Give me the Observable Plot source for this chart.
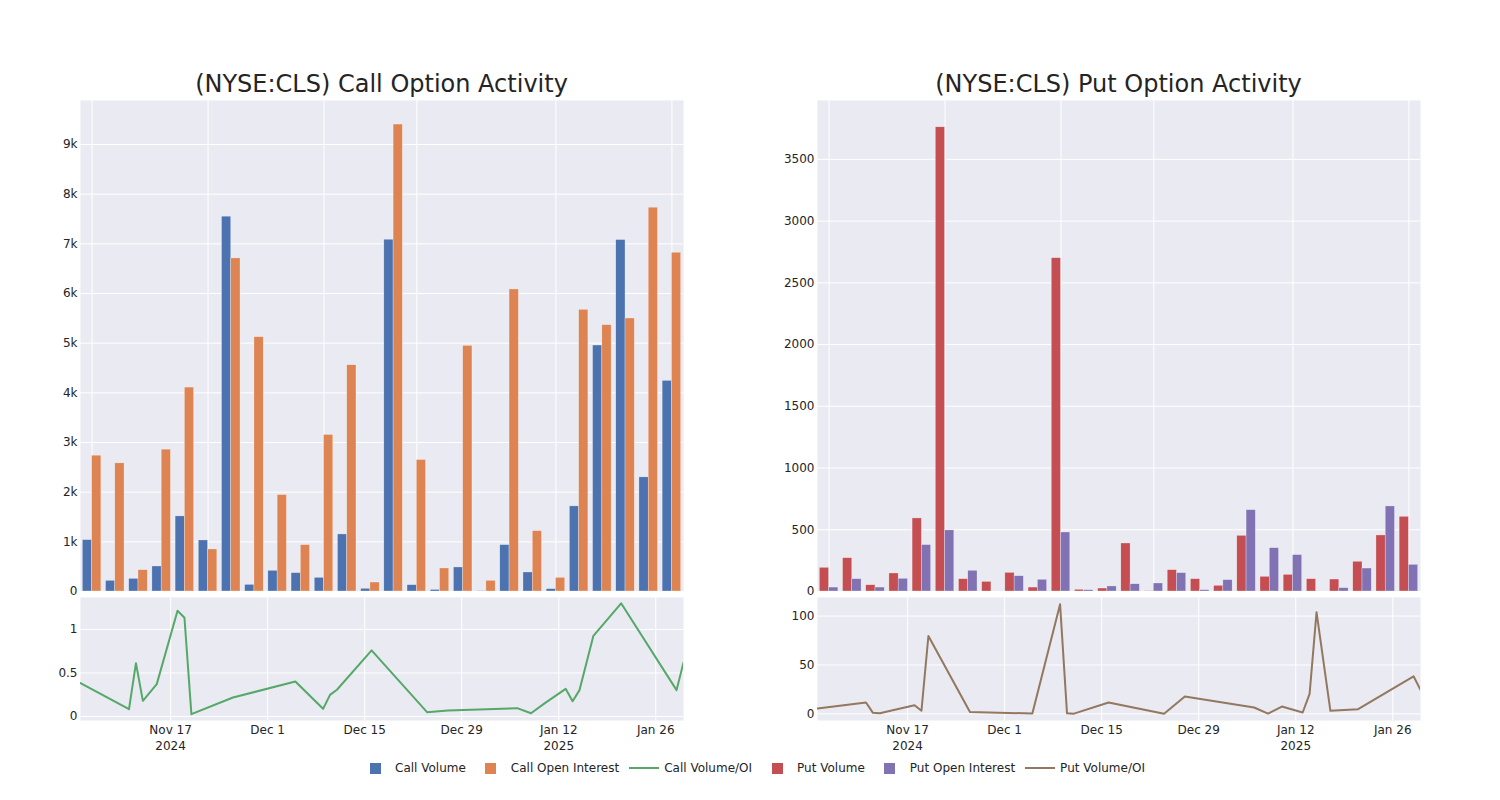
<!DOCTYPE html>
<html><head><meta charset="utf-8">
<script src="https://cdn.jsdelivr.net/npm/d3@7"></script>
<script src="https://cdn.jsdelivr.net/npm/@observablehq/plot@0.6"></script>
<style>
body{margin:0;background:#fff;}
#root{position:relative;width:1500px;height:800px;font-family:"DejaVu Sans",sans-serif;color:rgb(36,36,36);overflow:hidden;}
.panel{position:absolute;}
.title{position:absolute;font-size:24px;line-height:24px;white-space:nowrap;transform:translateX(-50%);}
#legend{position:absolute;left:355px;top:760px;display:flex;align-items:center;font-size:12px;line-height:16px;white-space:nowrap;}
.item{display:flex;align-items:center;margin-right:5px;}
.sym{width:40px;height:16px;display:flex;align-items:center;justify-content:center;}
</style></head>
<body><div id="root"></div>
<script>
// ---- data ----
const dates = ["2024-11-04","2024-11-11","2024-11-12","2024-11-13","2024-11-15","2024-11-18","2024-11-19","2024-11-20","2024-11-26","2024-12-05","2024-12-09","2024-12-10","2024-12-11","2024-12-16","2024-12-24","2024-12-27","2025-01-06","2025-01-08","2025-01-10","2025-01-13","2025-01-14","2025-01-15","2025-01-17","2025-01-21","2025-01-29","2025-01-30"];
const callVolume = [1035,215,255,504,1512,1028,7547,134,417,370,276,1149,55,7083,128,32,484,8,934,383,48,1714,4953,7077,2298,4241];
const callOpenInterest = [2735,2580,430,2856,4106,847,6707,5121,1942,934,3152,4556,181,9402,2648,464,4946,215,6082,1216,276,5672,5363,5497,7728,6821];
const callVolumeOI = [0.383,0.084,0.613,0.18,0.372,1.215,1.134,0.027,0.218,0.402,0.088,0.249,0.307,0.759,0.05,0.069,0.096,0.038,0.154,0.318,0.176,0.303,0.927,1.3,0.303,0.62];
const putVolume = [192,270,51,146,592,3760,100,78,151,32,2700,14,24,389,3,173,100,46,451,119,135,100,97,241,454,605];
const putOpenInterest = [32,100,32,103,376,495,168,0,124,95,478,11,41,59,65,149,11,92,659,351,295,0,27,186,689,216];
const putVolumeOI = [5.4,11.6,1.0,0.7,3.9,8.8,3.2,79.6,2.0,0.3,112,0.5,0.2,11.6,0.1,17.7,6.5,0.3,7.5,1.4,20.4,104,3.1,4.8,38.4,24.5];

// ---- ticks ----
const barGridCats = ["2024-11-04","2024-11-18","2024-12-09","2024-12-24","2025-01-14","2025-01-30"];
const xTickDates = ["2024-11-17","2024-12-01","2024-12-15","2024-12-29","2025-01-12","2025-01-26"];
const xTickLabels = ["Nov 17\n2024","Dec 1","Dec 15","Dec 29","Jan 12\n2025","Jan 26"];
const callVolTicks = [0,1000,2000,3000,4000,5000,6000,7000,8000,9000];
const callVolTickLabels = ["0","1k","2k","3k","4k","5k","6k","7k","8k","9k"];
const putVolTicks = [0,500,1000,1500,2000,2500,3000,3500];
const putVolTickLabels = ["0","500","1000","1500","2000","2500","3000","3500"];
const callRatioTicks = [0,0.5,1];
const callRatioTickLabels = ["0","0.5","1"];
const putRatioTicks = [0,50,100];
const putRatioTickLabels = ["0","50","100"];

// ---- style ----
const BG = "#EAEAF2";
const COLORS = {callVol:"#4C72B0", callOI:"#DD8452", callRatio:"#55A868", putVol:"#C44E52", putOI:"#8172B3", putRatio:"#937860"};
const svgStyle = {fontFamily:"DejaVu Sans", fontSize:"12px", color:"rgb(36,36,36)", background:"transparent", overflow:"visible"};
const AREA_W = 603;

function fmt(ticks, labels){ return d => labels[ticks.findIndex(t => +t === +d)]; }

function barPanel(vol, oi, volColor, oiColor, yMax, yTicks, yLabels){
  const rows = dates.map((d,i)=>({date:d, vol:vol[i], oi:oi[i]}));
  const bw = AREA_W / dates.length;
  const barStyle = {stroke:"white", strokeWidth:0.5, strokeOpacity:0.6};
  return Plot.plot({
    width:693, height:511, marginLeft:80, marginRight:10, marginTop:10, marginBottom:10,
    style: svgStyle,
    x:{type:"band", domain:dates, padding:0, round:false, axis:null},
    y:{domain:[0,yMax], axis:null},
    marks:[
      Plot.frame({fill:BG, stroke:null}),
      Plot.gridY({ticks:yTicks, stroke:"white", strokeOpacity:1, strokeWidth:1}),
      Plot.gridX({ticks:barGridCats, stroke:"white", strokeOpacity:1, strokeWidth:1}),
      Plot.barY(rows, {x:"date", y:"vol", fill:volColor, insetLeft:0.1*bw, insetRight:0.5*bw, ...barStyle}),
      Plot.barY(rows, {x:"date", y:"oi", fill:oiColor, insetLeft:0.5*bw, insetRight:0.1*bw, ...barStyle}),
      Plot.axisY({ticks:yTicks, tickFormat:fmt(yTicks,yLabels), tickSize:0, tickPadding:3, label:null, fontSize:12})
    ]
  });
}

function linePanel(ratio, color, yDomain, yTicks, yLabels){
  const rows = dates.map((d,i)=>({date:new Date(d), r:ratio[i]}));
  const tickDates = xTickDates.map(d=>new Date(d));
  return Plot.plot({
    width:693, height:173, marginLeft:80, marginRight:10, marginTop:7, marginBottom:43,
    style: svgStyle,
    x:{type:"utc", domain:[new Date(dates[0]), new Date(dates[dates.length-1])], axis:null},
    y:{domain:yDomain, axis:null},
    marks:[
      Plot.frame({fill:BG, stroke:null}),
      Plot.gridX({ticks:tickDates, stroke:"white", strokeOpacity:1, strokeWidth:1}),
      Plot.gridY({ticks:yTicks, stroke:"white", strokeOpacity:1, strokeWidth:1}),
      Plot.lineY(rows, {x:"date", y:"r", stroke:color, strokeWidth:2, clip:true}),
      Plot.axisY({ticks:yTicks, tickFormat:fmt(yTicks,yLabels), tickSize:0, tickPadding:3, label:null, fontSize:12}),
      Plot.axisX({ticks:tickDates, tickFormat:fmt(tickDates,xTickLabels), tickSize:0, tickPadding:2, label:null, fontSize:12, lineHeight:1.32})
    ]
  });
}

const root = document.getElementById("root");
function place(el, left, top){ const d=document.createElement("div"); d.className="panel"; d.style.left=left+"px"; d.style.top=top+"px"; d.appendChild(el); root.appendChild(d); }

place(barPanel(callVolume, callOpenInterest, COLORS.callVol, COLORS.callOI, 9886, callVolTicks, callVolTickLabels), 0, 90);
place(linePanel(callVolumeOI, COLORS.callRatio, [-0.046,1.367], callRatioTicks, callRatioTickLabels), 0, 590);
place(barPanel(putVolume, putOpenInterest, COLORS.putVol, COLORS.putOI, 3977, putVolTicks, putVolTickLabels), 737, 90);
place(linePanel(putVolumeOI, COLORS.putRatio, [-6.8,119], putRatioTicks, putRatioTickLabels), 737, 590);

function title(text, cx){ const t=document.createElement("div"); t.className="title"; t.textContent=text; t.style.left=cx+"px"; t.style.top="72px"; root.appendChild(t); }
title("(NYSE:CLS) Call Option Activity", 381.5);
title("(NYSE:CLS) Put Option Activity", 1118.5);

const legendItems = [
  {label:"Call Volume", color:COLORS.callVol, type:"bar"},
  {label:"Call Open Interest", color:COLORS.callOI, type:"bar"},
  {label:"Call Volume/OI", color:COLORS.callRatio, type:"line"},
  {label:"Put Volume", color:COLORS.putVol, type:"bar"},
  {label:"Put Open Interest", color:COLORS.putOI, type:"bar"},
  {label:"Put Volume/OI", color:COLORS.putRatio, type:"line"}
];
const legend = document.createElement("div"); legend.id="legend";
for (const it of legendItems){
  const item=document.createElement("div"); item.className="item";
  const sym=document.createElement("div"); sym.className="sym";
  const s=document.createElement("div");
  if (it.type==="bar"){ s.style.width="11px"; s.style.height="11px"; s.style.background=it.color; }
  else { s.style.width="30px"; s.style.height="2px"; s.style.background=it.color; }
  sym.appendChild(s);
  const txt=document.createElement("span"); txt.textContent=it.label;
  item.appendChild(sym); item.appendChild(txt);
  legend.appendChild(item);
}
root.appendChild(legend);
</script>
</body></html>
